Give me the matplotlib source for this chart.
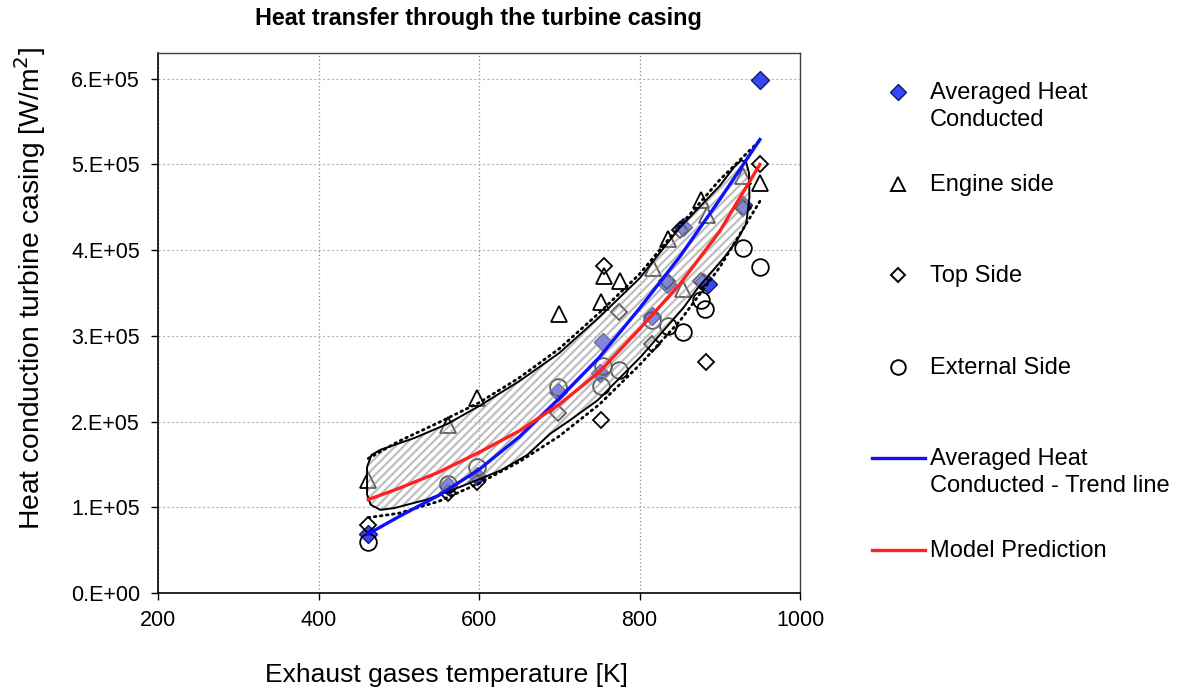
import numpy as np
import matplotlib.pyplot as plt
from matplotlib.patches import Polygon
from matplotlib.ticker import FuncFormatter

plt.rcParams['font.family'] = ['Liberation Sans', 'DejaVu Sans']
plt.rcParams['hatch.linewidth'] = 1.6

# measured heat flux, in 1e5 W/m2, against exhaust temperature [K]
t_avg = [462, 561, 597, 699, 751, 755, 816, 834, 854, 879, 885, 929, 950]
q_avg = [0.69, 1.25, 1.36, 2.35, 2.57, 2.93, 3.23, 3.61, 4.27, 3.63, 3.61, 4.53, 5.99]

t_engine = [462, 561, 597, 700, 752, 756, 776, 817, 835, 854, 877, 884, 929, 950]
q_engine = [1.32, 1.96, 2.27, 3.26, 3.39, 3.70, 3.64, 3.79, 4.13, 3.55, 4.59, 4.41, 4.86, 4.78]

t_top = [462, 561, 597, 699, 752, 756, 775, 816, 834, 851, 877, 883, 929, 950]
q_top = [0.79, 1.17, 1.30, 2.10, 2.02, 3.82, 3.28, 2.90, 3.64, 4.24, 3.64, 2.70, 4.49, 5.01]

t_ext = [462, 561, 597, 699, 752, 755, 775, 816, 835, 854, 877, 881, 929, 950]
q_ext = [0.59, 1.27, 1.47, 2.40, 2.42, 2.65, 2.60, 3.19, 3.11, 3.04, 3.42, 3.31, 4.02, 3.80]

# trend line of the averaged values and model prediction
t_line = [462, 500, 550, 600, 650, 700, 750, 800, 850, 900, 950]
q_trend = [0.69, 0.89, 1.14, 1.44, 1.82, 2.27, 2.75, 3.32, 3.92, 4.59, 5.29]
q_model = [1.09, 1.22, 1.41, 1.64, 1.89, 2.20, 2.58, 3.08, 3.60, 4.22, 5.00]

# scatter band limits (dotted)
q_band_hi = [1.57, 1.77, 1.99, 2.22, 2.51, 2.85, 3.27, 3.72, 4.28, 4.82, 5.28]
q_band_lo = [0.88, 0.93, 1.07, 1.28, 1.53, 1.83, 2.20, 2.66, 3.17, 3.80, 4.57]

# outline of the shaded band
band_t = [460.5, 460.5, 466, 477, 520, 560, 600, 650, 700, 750, 800, 850, 900, 918, 927,
          933, 936.5, 937, 933, 922, 906, 872, 855, 827, 802, 748, 714, 689, 660, 627,
          577, 535, 494, 477, 465]
band_q = [1.15, 1.47, 1.61, 1.67, 1.81, 1.97, 2.18, 2.47, 2.80, 3.22, 3.67, 4.26, 4.75, 4.97, 5.05,
          5.02, 4.90, 4.62, 4.31, 4.12, 3.92, 3.55, 3.33, 3.03, 2.76, 2.25, 2.02, 1.86, 1.61, 1.43,
          1.24, 1.09, 0.99, 0.97, 1.03]

scale = 1e5

W, H = 1184, 693
fig = plt.figure(figsize=(W / 100, H / 100), dpi=100)
ax = fig.add_axes([158 / W, 1 - 593 / H, (800 - 158) / W, (593 - 53) / H])

ax.plot(t_avg, np.array(q_avg) * scale, 'D', ms=9.0, mfc='#3a46f0', mec='#101a70', mew=1.0, zorder=3)
ax.plot(t_engine, np.array(q_engine) * scale, '^', ms=11.5, mfc='none', mec='black', mew=1.3, zorder=3)
ax.plot(t_top, np.array(q_top) * scale, 'D', ms=8.6, mfc='none', mec='black', mew=1.3, zorder=3)
ax.plot(t_ext, np.array(q_ext) * scale, 'o', ms=12, mfc='none', mec='black', mew=1.3, zorder=3)

pts = np.column_stack([band_t, np.array(band_q) * scale])
ax.add_patch(Polygon(pts, closed=True, facecolor=(1, 1, 1, 0.35), edgecolor=(0.55, 0.55, 0.55, 0.55),
                     hatch='////', lw=0, zorder=4))
ax.add_patch(Polygon(pts, closed=True, fill=False, edgecolor='black', lw=1.4, joinstyle='round', zorder=5))

ax.plot(t_line, np.array(q_band_hi) * scale, color='black', lw=2.0, linestyle=(0, (0.6, 1.6)),
        dash_capstyle='round', zorder=5)
ax.plot(t_line, np.array(q_band_lo) * scale, color='black', lw=2.0, linestyle=(0, (0.6, 1.6)),
        dash_capstyle='round', zorder=5)

ax.plot(t_line, np.array(q_trend) * scale, color='#1010ff', lw=2.4, zorder=6)
ax.plot(t_line, np.array(q_model) * scale, color='#ff2020', lw=2.4, zorder=6)

ax.set_xlim(200, 1000)
ax.set_ylim(0, 6.3e5)
ax.set_xticks([200, 400, 600, 800, 1000])
ax.set_yticks(np.arange(0, 7) * 1e5)
ax.yaxis.set_major_formatter(FuncFormatter(lambda v, p: '0.E+00' if v == 0 else '%d.E+05' % round(v / 1e5)))
ax.tick_params(direction='out', length=5, width=1, labelsize=15.5, colors='black')
ax.tick_params(axis='y', pad=8)
ax.tick_params(axis='x', pad=7)
ax.xaxis.grid(True, color='#8a8a8a', linestyle=(0, (1, 2)), lw=0.9)
ax.yaxis.grid(True, color='#b5b5b5', linestyle=(0, (2, 2)), lw=0.8)
ax.set_axisbelow(True)
for s in ['left', 'bottom']:
    ax.spines[s].set_linewidth(1.2)
for s in ['top', 'right']:
    ax.spines[s].set_color('#404040')
    ax.spines[s].set_linewidth(1.0)

fig.text(478 / W, 1 - 19 / H, 'Heat transfer through the turbine casing', ha='center', va='center',
         fontsize=16.8, fontweight='bold')
fig.text(446 / W, 1 - 675 / H, 'Exhaust gases temperature [K]', ha='center', va='center', fontsize=19)
fig.text(30 / W, 1 - 288 / H, 'Heat conduction turbine casing [W/m$^2$]', ha='center', va='center',
         fontsize=20.3, rotation=90)

# legend drawn in figure pixels
lax = fig.add_axes([0, 0, 1, 1], facecolor='none')
lax.set_xlim(0, W)
lax.set_ylim(H, 0)
lax.axis('off')
mx, tx = 898, 930
lax.plot([mx], [92], 'D', ms=7.8, mfc='#3a46f0', mec='#101a70', mew=1.0)
lax.plot([mx], [184], '^', ms=10.5, mfc='none', mec='black', mew=1.4)
lax.plot([mx], [275], 'D', ms=7.4, mfc='none', mec='black', mew=1.4)
lax.plot([mx], [367], 'o', ms=10.5, mfc='none', mec='black', mew=1.4)
lax.plot([872, 925], [458, 458], color='#1010ff', lw=2.4)
lax.plot([872, 925], [550, 550], color='#ff2020', lw=2.4)
labels = [(92, 'Averaged Heat\nConducted'), (184, 'Engine side'), (275, 'Top Side'),
          (367, 'External Side'), (458, 'Averaged Heat\nConducted - Trend line'), (550, 'Model Prediction')]
for y, s in labels:
    lax.text(tx, y - 10, s, ha='left', va='top', fontsize=17, linespacing=1.28)

fig.savefig('out.png', dpi=100)
